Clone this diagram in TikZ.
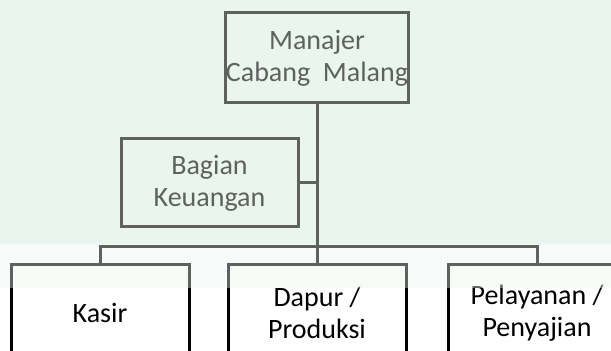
\documentclass[tikz,border=0pt]{standalone}
\usepackage{fontspec}
\setmainfont{Carlito}
\usepackage{xcolor}
\usepackage{tikz}
\usetikzlibrary{positioning}

\definecolor{mintbg}{RGB}{234,245,239}

\begin{document}
\begin{tikzpicture}[
    x=0.5pt, y=-0.5pt,
    node distance=18pt and 18pt,
    box/.style={rectangle, draw=black, line width=1.5pt, fill=none, inner sep=0pt, text centered, align=center, minimum width=89pt, font=\fontsize{14}{16.2}\selectfont},
    topbox/.style={box, minimum height=45pt},
    midbox/.style={box, minimum width=88.5pt, minimum height=44pt},
    unitbox/.style={box, minimum height=48pt, fill=white},
    link/.style={draw=black, line width=1.5pt}
]
    % Page and background
    \useasboundingbox (0,0) rectangle (611,351);
    \clip (0,0) rectangle (611,351);
    \fill[mintbg] (0,0) rectangle (611,244);

    % Nodes
    \node (manajer) [topbox] at (317,58) {Manajer\\Cabang~ Malang};
    \node (keuangan) [midbox] at (209.5,183) {Bagian\\Keuangan};

    % Units
    \node (dapur) [unitbox] at (317,313) {Dapur /\\Produksi};
    \node (kasir) [unitbox, left=18pt of dapur] {Kasir};
    \node (pelayanan) [unitbox, right=19.5pt of dapur] {Pelayanan /\\Penyajian};
    \coordinate (bus) at (317,247);

    % Lines
    \draw [link] (manajer.south) -- (dapur.north);
    \draw [link] (keuangan.east) -- (keuangan.east -| manajer.south);
    \draw [link] (kasir.north) -- (kasir.north |- bus) -- (pelayanan.north |- bus) -- (pelayanan.north);

    % Faded upper part of the scan
    \fill[mintbg, opacity=0.4] (0,0) rectangle (611,288);
\end{tikzpicture}
\end{document}
